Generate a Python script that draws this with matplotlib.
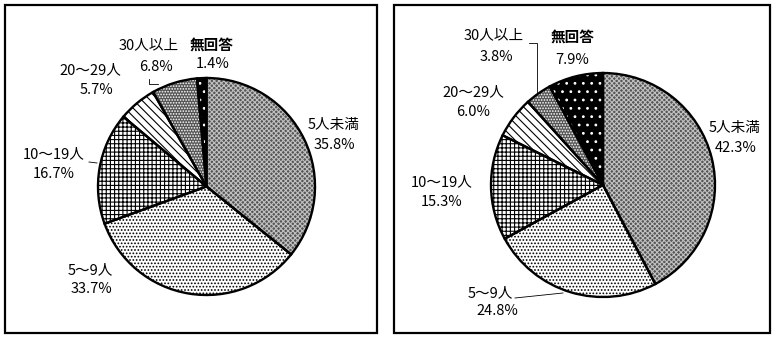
import matplotlib
matplotlib.use("Agg")
import matplotlib.pyplot as plt
from matplotlib.patches import Rectangle

plt.rcParams['font.family'] = ['Noto Sans CJK JP', 'DejaVu Sans']
plt.rcParams['hatch.linewidth'] = 0.8

categories = ['5人未満', '5～9人', '10～19人', '20～29人', '30人以上', '無回答']
left_values = [35.8, 33.7, 16.7, 5.7, 6.8, 1.4]
right_values = [42.3, 24.8, 15.3, 6.0, 3.8, 7.9]

W, H = 779, 341
fig = plt.figure(figsize=(W / 100, H / 100), dpi=100)

# styles: facecolor, hatch, hatch colour
styles = [
    ('#555555', 'xxxxxxx', '#c0c0c0'),
    ('#ffffff', '.....', '#000000'),
    ('#ffffff', '++++', '#000000'),
    ('#ffffff', '\\\\\\\\', '#000000'),
    ('#555555', '......', '#ffffff'),
    ('#000000', '..', '#ffffff'),
]


def draw_pie(values, cx, cy, r):
    ax = fig.add_axes([(cx - r) / W, (H - cy - r) / H, 2 * r / W, 2 * r / H])
    fcs = [s[0] for s in styles]
    ax.pie(values, startangle=90, counterclock=False, colors=fcs,
           wedgeprops=dict(linewidth=0))
    hw, _ = ax.pie(values, startangle=90, counterclock=False,
                   wedgeprops=dict(linewidth=0, facecolor='none'))
    for w, s in zip(hw, styles):
        w.set_hatch(s[1])
        w.set_edgecolor(s[2])
    ax.pie(values, startangle=90, counterclock=False,
           wedgeprops=dict(linewidth=1.7, edgecolor='black', facecolor='none'))
    ax.set_aspect('auto')
    ax.set_xlim(-1.02, 1.02)
    ax.set_ylim(-1.02, 1.02)
    ax.set_position([(cx - r * 1.02) / W, (H - cy - r * 1.02) / H,
                     2.04 * r / W, 2.04 * r / H])
    ax.axis('off')


draw_pie(left_values, 206.5, 186.5, 108.5)
draw_pie(right_values, 603, 185, 112)

ov = fig.add_axes([0, 0, 1, 1], zorder=10)
ov.set_xlim(0, W)
ov.set_ylim(H, 0)
ov.axis('off')
ov.patch.set_alpha(0)

for x0, x1 in [(5, 377), (394, 770)]:
    ov.add_patch(Rectangle((x0, 5), x1 - x0, 328, fill=False, edgecolor='black', linewidth=1.6))

fs = 10.5


def lab(name, val, x, y1, x2=None, y2=None, bold=False):
    ov.text(x, y1, name, ha='center', va='center', fontsize=fs,
            fontweight='bold' if bold else 'normal')
    ov.text(x if x2 is None else x2, y1 + 19.5 if y2 is None else y2,
            f'{val:.1f}%', ha='center', va='center', fontsize=fs)


# left labels
lab(categories[0], left_values[0], 334, 125, 334, 145)
lab(categories[1], left_values[1], 90, 270, 91, 289)
lab(categories[2], left_values[2], 54, 154, 54, 174)
lab(categories[3], left_values[3], 90, 70, 97, 90)
lab(categories[4], left_values[4], 149, 45, 156, 67)
lab(categories[5], left_values[5], 212, 45, 213, 64, bold=True)
ov.plot([89, 97], [162, 163], color='black', lw=0.6)
ov.plot([149, 149, 158], [79, 84, 84], color='black', lw=0.6)

# right labels
lab(categories[0], right_values[0], 735, 128, 736, 148)
lab(categories[1], right_values[1], 490, 293, 497, 311)
lab(categories[2], right_values[2], 442, 182, 442, 202)
lab(categories[3], right_values[3], 473, 92, 473, 112)
lab(categories[4], right_values[4], 494, 35, 496, 57)
lab(categories[5], right_values[5], 573, 37, 572, 60, bold=True)
ov.plot([529, 537, 537], [43, 43, 92], color='black', lw=0.6)
ov.plot([515, 563], [298, 293], color='black', lw=0.6)

fig.savefig('out.png', dpi=100)
